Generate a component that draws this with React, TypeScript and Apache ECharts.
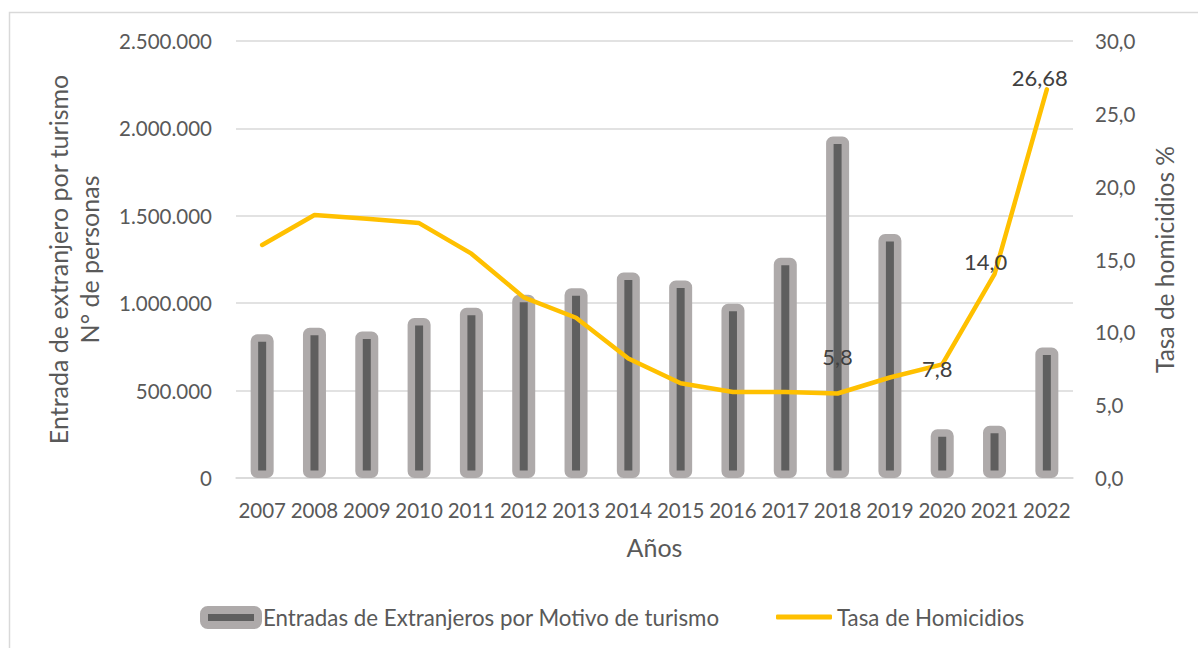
import React, { useEffect, useRef } from "react";
import * as echarts from "echarts";

const years = ["2007","2008","2009","2010","2011","2012","2013","2014","2015","2016","2017","2018","2019","2020","2021","2022"];
const entradas = [822000, 860000, 838000, 915000, 974000, 1048000, 1085000, 1175000, 1130000, 997000, 1260000, 1953000, 1396000, 279000, 299000, 746000];
const tasa = [16.0, 18.05, 17.8, 17.5, 15.4, 12.4, 11.0, 8.2, 6.5, 5.9, 5.9, 5.8, 6.9, 7.8, 14.0, 26.68];
const tasaLabels: Record<number, { text: string; offset: number[]; pos: string; dist?: number }> = {
  11: { text: "5,8", offset: [0, 0], pos: "top", dist: 26 },
  13: { text: "7,8", offset: [-5, 4], pos: "inside" },
  14: { text: "14,0", offset: [-9, -13], pos: "inside" },
  15: { text: "26,68", offset: [-7, -12], pos: "inside" },
};
const leftTicks = { min: 0, max: 2500000, interval: 500000 };
const rightTicks = { min: 0, max: 30, interval: 5 };

const FONT = "Lato";
const GREY = "#595959";

const fmtThousands = (v: number) => String(Math.round(v)).replace(/\B(?=(\d{3})+(?!\d))/g, ".");

export default function App() {
  const ref = useRef<HTMLDivElement>(null);
  useEffect(() => {
    if (!ref.current) return;
    const chart = echarts.init(ref.current, null, { renderer: "svg" });
    const lineData = tasa.map((v, i) => {
      const l = tasaLabels[i];
      if (!l) return v;
      return {
        value: v,
        label: {
          show: true,
          formatter: l.text,
          position: l.pos as any,
          distance: l.dist ?? 5,
          offset: l.offset,
          fontFamily: FONT,
          fontSize: 22,
          color: "#404040",
        },
      };
    });
    chart.setOption({
      animation: false,
      textStyle: { fontFamily: FONT },
      graphic: [
        {
          type: "rect",
          shape: { x: 9.5, y: 12.5, width: 1400, height: 800 },
          style: { fill: "none", stroke: "#D9D9D9", lineWidth: 1.5 },
          silent: true,
        },
      ],
      grid: { left: 236, right: 125, top: 41, bottom: 170 },
      legend: [
        {
          data: [
            {
              name: "Entradas de Extranjeros por Motivo de turismo",
              icon: "roundRect",
              itemStyle: { color: "#5F5F5F", borderColor: "#AEAAAA", borderWidth: 8 },
            },
          ],
          left: 195,
          top: 601,
          itemWidth: 54,
          itemHeight: 15,
          textStyle: { fontFamily: FONT, fontSize: 22.3, color: GREY },
        },
        {
          data: [
            {
              name: "Tasa de Homicidios",
              icon: "roundRect",
              itemStyle: { color: "#FFC000", borderWidth: 0 },
            },
          ],
          left: 771,
          top: 601,
          itemWidth: 56,
          itemHeight: 5,
          textStyle: { fontFamily: FONT, fontSize: 22.3, color: GREY },
        },
      ],
      xAxis: {
        type: "category",
        data: years,
        boundaryGap: true,
        name: "Años",
        nameLocation: "middle",
        nameGap: 56,
        nameTextStyle: { fontFamily: FONT, fontSize: 25, color: GREY },
        axisTick: { show: false },
        axisLine: { lineStyle: { color: "#D9D9D9", width: 1.5 } },
        axisLabel: { margin: 21, fontFamily: FONT, fontSize: 20.5, color: GREY, interval: 0 },
      },
      yAxis: [
        {
          type: "value",
          ...leftTicks,
          name: "Entrada de extranjero por turismo\nN° de personas",
          nameLocation: "middle",
          nameRotate: 90,
          nameGap: 132,
          nameTextStyle: { fontFamily: FONT, fontSize: 25, color: GREY, lineHeight: 31 },
          axisLine: { show: false },
          axisTick: { show: false },
          axisLabel: { margin: 24, fontFamily: FONT, fontSize: 20.5, color: GREY, formatter: fmtThousands },
          splitLine: { lineStyle: { color: "#D9D9D9", width: 1.5 } },
        },
        {
          type: "value",
          ...rightTicks,
          position: "right",
          name: "Tasa de homicidios %",
          nameLocation: "middle",
          nameRotate: 90,
          nameGap: 79,
          nameTextStyle: { fontFamily: FONT, fontSize: 24.5, color: GREY },
          axisLine: { show: false },
          axisTick: { show: false },
          axisLabel: {
            margin: 22,
            fontFamily: FONT,
            fontSize: 20.5,
            color: GREY,
            formatter: (v: number) => v.toFixed(1).replace(".", ","),
          },
          splitLine: { show: false },
        },
      ],
      series: [
        {
          name: "Entradas de Extranjeros por Motivo de turismo",
          type: "bar",
          yAxisIndex: 0,
          data: entradas,
          barWidth: 23,
          z: 2,
          itemStyle: {
            color: "#5F5F5F",
            borderColor: "#AEAAAA",
            borderWidth: 7.5,
            borderRadius: 3,
            borderJoin: "round",
          },
        },
        {
          name: "Tasa de Homicidios",
          type: "line",
          yAxisIndex: 1,
          data: lineData,
          z: 3,
          symbol: "circle",
          symbolSize: 1,
          showSymbol: true,
          itemStyle: { color: "#FFC000" },
          lineStyle: { color: "#FFC000", width: 4.5, join: "round", cap: "round" },
        },
      ],
    });
    return () => chart.dispose();
  }, []);
  return (
    <div
      ref={ref}
      style={{ position: "absolute", left: 0, top: 0, width: 1198, height: 648, background: "#fff" }}
    />
  );
}
